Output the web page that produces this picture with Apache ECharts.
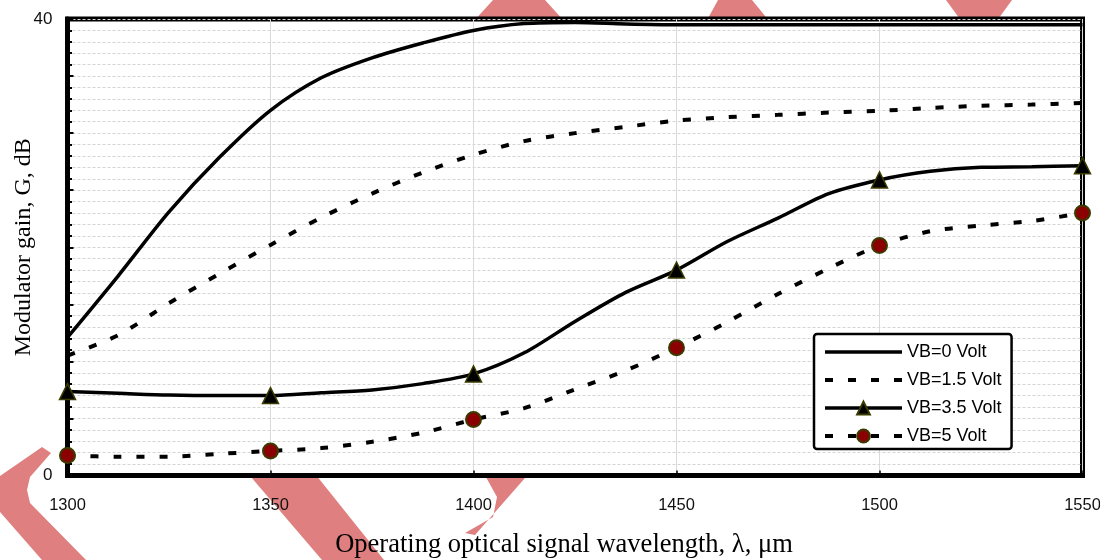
<!DOCTYPE html>
<html>
<head>
<meta charset="utf-8">
<script src="https://cdn.jsdelivr.net/npm/echarts@6/dist/echarts.min.js"></script>
<style>html,body{margin:0;padding:0;background:#fff}#c{width:1100px;height:560px}</style>
</head>
<body>
<div id="c"></div>
<script>
// ---- data ----
const wavelengths = [1300, 1312.5, 1325, 1337.5, 1350, 1362.5, 1375, 1387.5, 1400, 1412.5, 1425,
                     1437.5, 1450, 1462.5, 1475, 1487.5, 1500, 1512.5, 1525, 1537.5, 1550];
const vb0  = [12.1, 17.5, 23.1, 27.9, 32.0, 34.85, 36.6, 37.9, 39.0, 39.6, 39.7,
              39.57, 39.5, 39.5, 39.5, 39.5, 39.5, 39.5, 39.5, 39.5, 39.5];
const vb15 = [10.5, 12.3, 15.1, 17.7, 20.2, 22.6, 24.7, 26.55, 28.1, 29.3, 30.0,
              30.55, 31.1, 31.4, 31.6, 31.8, 31.95, 32.2, 32.4, 32.5, 32.65];
const vb35 = [7.35, 7.2, 7.05, 7.0, 7.0, 7.25, 7.5, 8.05, 8.9, 10.75, 13.5,
              16.05, 18.0, 20.5, 22.55, 24.7, 25.9, 26.65, 27.0, 27.05, 27.15];
const vb5  = [1.75, 1.65, 1.65, 1.9, 2.15, 2.4, 2.95, 3.75, 4.9, 5.9, 7.55,
              9.2, 11.2, 13.45, 15.9, 18.15, 20.15, 21.4, 21.9, 22.3, 23.0];
const markerWavelengths = [1300, 1350, 1400, 1450, 1500, 1550];
const seriesNames = ['VB=0 Volt', 'VB=1.5 Volt', 'VB=3.5 Volt', 'VB=5 Volt'];
const yLabelValues = [0, 40];
const xAxisTitle = 'Operating optical signal wavelength, \u03bb, \u03bcm';
const yAxisTitle = 'Modulator gain, G, dB';

// ---- build ----
function build(vals, withMarkers) {
  return wavelengths.map((w, i) => {
    const item = { value: [w, vals[i]] };
    if (withMarkers && markerWavelengths.indexOf(w) < 0) item.symbol = 'none';
    return item;
  });
}

const wm = '#df7f7f';
function poly(pts) {
  return { type: 'polygon', z: -10, silent: true, shape: { points: pts }, style: { fill: wm } };
}

const SMOOTH = 0.3;
const chart = echarts.init(document.getElementById('c'), null, { renderer: 'canvas' });
chart.setOption({
  animation: false,
  backgroundColor: '#fff',
  graphic: [
    poly([[42,447],[51,453],[30,477],[27,490],[30,503],[86,560],[42,560],[0,512],[0,476]]),
    poly([[245,470],[312,470],[384,560],[322,560]]),
    poly([[482,470],[532,470],[475,535],[465,533],[493,517],[497,497]]),
    poly([[493,0],[545,0],[565,22],[473,22]]),
    poly([[718,0],[752,0],[770,22],[706,22]]),
    poly([[946,0],[1012,0],[996,22],[962,22]])
  ],
  grid: {
    left: 67.5, right: 17.5, top: 19, bottom: 84.5,
    containLabel: false, outerBoundsMode: 'none',
    show: true, backgroundColor: '#fff', borderColor: '#000', borderWidth: 5
  },
  legend: {
    orient: 'vertical', left: 814, top: 334,
    padding: [8, 10, 3, 9],
    itemWidth: 77, itemHeight: 16, itemGap: 8,
    backgroundColor: '#fff', borderColor: '#000', borderWidth: 2.5, borderRadius: 3,
    textStyle: { fontFamily: 'Liberation Sans, Arial, sans-serif', fontSize: 18, color: '#000', lineHeight: 20 },
    data: [
      { name: seriesNames[0], itemStyle: { opacity: 0 }, lineStyle: { width: 3.5, type: 'solid', color: '#000' } },
      { name: seriesNames[1], itemStyle: { opacity: 0 }, lineStyle: { width: 4, type: [8, 15], color: '#000' } },
      { name: seriesNames[2], lineStyle: { width: 3.5, type: 'solid', color: '#000' } },
      { name: seriesNames[3], lineStyle: { width: 4, type: [8, 15], color: '#000' } }
    ]
  },
  xAxis: {
    type: 'value', min: 1300, max: 1550, interval: 50,
    name: xAxisTitle, nameLocation: 'middle', nameGap: 56, nameMoveOverlap: false,
    nameTextStyle: { fontFamily: 'Liberation Serif, Times New Roman, serif', fontSize: 26.5, color: '#000', padding: [0, 22, 0, 0] },
    axisLine: { show: true, lineStyle: { color: '#000', width: 5 } },
    axisTick: { show: true, inside: true, length: 5, lineStyle: { color: '#000', width: 1.5 } },
    axisLabel: {
      margin: 21, fontFamily: 'Liberation Sans Narrow, Liberation Sans, Arial, sans-serif', fontSize: 16.5, color: '#111',
      showMinLabel: true, showMaxLabel: true,
      formatter: v => String(v)
    },
    splitLine: { show: true, lineStyle: { color: '#dadada', width: 1 } }
  },
  yAxis: {
    type: 'value', min: 0, max: 40, interval: 5,
    name: yAxisTitle, nameLocation: 'middle', nameGap: 32, nameMoveOverlap: false,
    nameTextStyle: { fontFamily: 'Liberation Serif, Times New Roman, serif', fontSize: 24, color: '#000' },
    axisLine: { show: true, lineStyle: { color: '#000', width: 5 } },
    axisTick: { show: true, inside: true, length: 6, lineStyle: { color: '#000', width: 2 } },
    minorTick: { show: true, splitNumber: 5, length: 4.5, lineStyle: { color: '#000', width: 2 } },
    axisLabel: {
      margin: 15, fontFamily: 'Liberation Sans, Arial, sans-serif', fontSize: 17, color: '#111',
      showMinLabel: true, showMaxLabel: true,
      formatter: v => (yLabelValues.indexOf(v) >= 0 ? String(v) : '')
    },
    splitLine: { show: true, lineStyle: { color: '#d4d4d4', width: 1, type: [3, 2] } },
    minorSplitLine: { show: true, lineStyle: { color: '#d4d4d4', width: 1, type: [3, 2] } }
  },
  series: [
    {
      name: seriesNames[0], type: 'line', data: build(vb0, false),
      symbol: 'none', smooth: SMOOTH,
      lineStyle: { color: '#000', width: 3.5 }, itemStyle: { color: '#000' }
    },
    {
      name: seriesNames[1], type: 'line', data: build(vb15, false),
      symbol: 'none', smooth: SMOOTH,
      lineStyle: { color: '#000', width: 4, type: [8, 15] }, itemStyle: { color: '#000' }
    },
    {
      name: seriesNames[2], type: 'line', data: build(vb35, true),
      symbol: 'triangle', symbolSize: 16, showAllSymbol: true, smooth: SMOOTH,
      lineStyle: { color: '#000', width: 3.5 },
      itemStyle: { color: '#000', borderColor: '#3b3b00', borderWidth: 1.5 }
    },
    {
      name: seriesNames[3], type: 'line', data: build(vb5, true),
      symbol: 'circle', symbolSize: 15, showAllSymbol: true, smooth: SMOOTH,
      lineStyle: { color: '#000', width: 4, type: [8, 15] },
      itemStyle: { color: '#8b0000', borderColor: '#3b3b00', borderWidth: 2 }
    }
  ]
});
</script>
</body>
</html>
